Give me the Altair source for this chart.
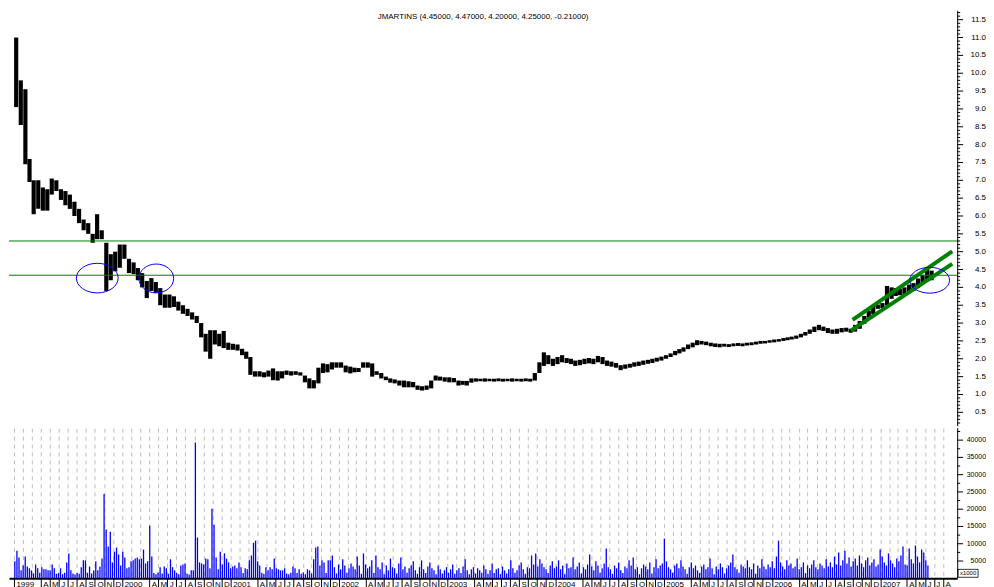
import altair as alt
import pandas as pd

TITLE = "JMARTINS (4.45000, 4.47000, 4.20000, 4.25000, -0.21000)"
FONT = "Liberation Sans"

# semi-monthly price ranges (1st and 16th of each month from Jan 1999)
price_low = [
    9.05, 8.55, 7.45, 6.95, 6.05, 6.2, 6.15, 6.15, 6.6, 6.7, 6.45, 6.3, 6.2, 6.0, 5.8, 5.6, 5.5, 5.25, 5.35, 5.35, 3.9, 4.2, 4.45, 4.55,
    4.8, 4.4, 4.37, 4.2, 4.0, 3.7, 3.9, 3.85, 3.5, 3.43, 3.43, 3.45, 3.35, 3.26, 3.2, 3.1, 3.0, 2.6, 2.2, 2.0, 2.4, 2.35, 2.3, 2.25,
    2.25, 2.23, 2.1, 2.0, 1.55, 1.5, 1.5, 1.48, 1.5, 1.4, 1.39, 1.45, 1.55, 1.53, 1.55, 1.53, 1.34, 1.17, 1.17, 1.31, 1.6, 1.62, 1.7, 1.75,
    1.75, 1.62, 1.59, 1.62, 1.63, 1.75, 1.75, 1.5, 1.55, 1.45, 1.4, 1.33, 1.31, 1.25, 1.2, 1.2, 1.2, 1.13, 1.11, 1.13, 1.17, 1.39, 1.39, 1.36,
    1.34, 1.34, 1.25, 1.27, 1.25, 1.33, 1.36, 1.37, 1.36, 1.37, 1.36, 1.37, 1.36, 1.37, 1.36, 1.37, 1.36, 1.37, 1.36, 1.39, 1.6, 1.8, 1.85, 1.8,
    1.85, 1.9, 1.88, 1.85, 1.8, 1.82, 1.85, 1.87, 1.85, 1.9, 1.85, 1.8, 1.78, 1.75, 1.68, 1.72, 1.75, 1.78, 1.8, 1.83, 1.86, 1.88, 1.92, 1.95,
    2.0, 2.05, 2.1, 2.15, 2.2, 2.27, 2.32, 2.38, 2.4, 2.38, 2.35, 2.33, 2.32, 2.34, 2.33, 2.35, 2.36, 2.35, 2.37, 2.38, 2.4, 2.42, 2.43, 2.45,
    2.46, 2.48, 2.5, 2.52, 2.54, 2.56, 2.6, 2.65, 2.7, 2.75, 2.8, 2.78, 2.72, 2.7, 2.7, 2.74, 2.76, 2.73, 2.76, 2.84, 2.98, 3.15, 3.25, 3.4,
    3.42, 3.5, 3.68, 3.76, 3.78, 3.8, 3.84, 3.9, 3.98, 4.1, 4.2, 4.2,
]
price_high = [
    11.0, 9.8, 9.55, 7.6, 7.0, 7.0, 6.8, 6.75, 7.05, 7.0, 6.75, 6.7, 6.6, 6.4, 6.2, 5.9, 5.8, 5.5, 6.05, 5.6, 5.25, 4.93, 5.0, 5.2,
    5.2, 4.8, 4.7, 4.54, 4.4, 4.18, 4.26, 4.15, 3.98, 3.8, 3.8, 3.75, 3.6, 3.5, 3.4, 3.3, 3.2, 3.0, 2.7, 2.8, 2.8, 2.7, 2.78, 2.45,
    2.42, 2.4, 2.28, 2.2, 2.05, 1.65, 1.65, 1.62, 1.67, 1.73, 1.65, 1.65, 1.67, 1.65, 1.65, 1.62, 1.53, 1.45, 1.4, 1.75, 1.87, 1.85, 1.9, 1.9,
    1.9, 1.81, 1.78, 1.75, 1.74, 1.9, 1.9, 1.87, 1.65, 1.6, 1.5, 1.45, 1.42, 1.39, 1.39, 1.37, 1.35, 1.25, 1.23, 1.25, 1.39, 1.53, 1.5, 1.48,
    1.48, 1.46, 1.39, 1.38, 1.38, 1.45, 1.45, 1.44, 1.45, 1.44, 1.44, 1.45, 1.44, 1.44, 1.45, 1.44, 1.44, 1.45, 1.44, 1.6, 1.9, 2.18, 2.1, 2.0,
    2.05, 2.1, 2.02, 2.0, 1.95, 1.97, 2.0, 2.02, 2.0, 2.08, 2.05, 1.95, 1.92, 1.88, 1.82, 1.84, 1.86, 1.9, 1.92, 1.95, 1.97, 2.0, 2.03, 2.06,
    2.1, 2.15, 2.22, 2.27, 2.32, 2.4, 2.45, 2.52, 2.5, 2.48, 2.45, 2.43, 2.42, 2.42, 2.41, 2.43, 2.44, 2.43, 2.45, 2.46, 2.48, 2.5, 2.5, 2.52,
    2.54, 2.55, 2.58, 2.6, 2.62, 2.65, 2.7, 2.75, 2.82, 2.9, 2.95, 2.9, 2.86, 2.82, 2.84, 2.86, 2.87, 2.84, 2.95, 3.06, 3.2, 3.35, 3.48, 3.52,
    3.56, 4.04, 4.0, 3.98, 3.96, 4.0, 4.08, 4.12, 4.25, 4.35, 4.54, 4.47,
]

# weekly volume, thousands of shares (weeks from 4 Jan 1999)
volume_k = [
    4.9, 8.0, 6.0, 2.3, 3.7, 6.3, 3.4, 2.9, 2.3, 1.4, 4.0, 2.9, 1.6, 3.2, 2.6, 2.6, 2.3, 2.3, 4.0, 2.9,
    1.3, 1.5, 2.9, 1.2, 1.6, 4.6, 7.2, 2.3, 1.4, 1.1, 1.5, 1.3, 3.2, 5.2, 5.2, 1.6, 3.4, 1.4, 2.3, 4.9,
    2.3, 3.4, 5.7, 24.4, 14.1, 9.2, 13.5, 4.6, 7.7, 8.9, 6.9, 3.7, 7.7, 6.0, 2.9, 3.2, 4.9, 5.2, 5.7, 6.0,
    5.5, 5.7, 8.3, 4.3, 4.9, 15.2, 6.3, 1.5, 1.2, 1.7, 3.2, 1.4, 3.4, 2.9, 1.3, 5.5, 3.2, 2.3, 1.5, 1.2,
    3.7, 4.0, 4.3, 1.4, 1.1, 2.3, 2.3, 39.3, 11.8, 4.6, 4.3, 4.0, 5.7, 5.5, 2.9, 20.1, 15.5, 6.0, 2.6, 7.7,
    4.0, 7.2, 5.7, 4.6, 2.9, 3.4, 3.7, 2.9, 4.6, 3.2, 1.5, 2.9, 2.6, 5.2, 6.6, 10.3, 10.9, 4.9, 3.7, 1.6,
    1.3, 3.2, 2.3, 3.2, 2.6, 5.7, 2.9, 2.6, 2.3, 2.3, 2.9, 1.4, 1.2, 1.6, 3.4, 2.9, 1.5, 2.6, 1.3, 1.7,
    1.2, 2.6, 2.3, 1.4, 5.5, 8.9, 9.2, 3.7, 5.2, 4.6, 1.5, 5.2, 5.2, 6.6,
    3.2, 1.4, 4.0, 2.6, 5.5, 3.7, 1.6, 2.9, 4.3, 3.4, 2.6, 6.3, 3.7, 1.3, 7.2, 4.0, 2.9, 3.4, 5.2, 1.5,
    6.6, 3.2, 2.6, 4.6, 1.2, 3.7, 2.3, 5.7, 3.2, 2.9, 1.4, 4.3, 6.0, 2.6, 3.4, 1.6, 2.9, 3.7, 4.9, 2.3,
    1.3, 3.2, 5.2, 2.6, 1.5, 3.4, 4.6, 2.9, 2.3, 1.2, 3.7, 2.6, 1.4, 2.3, 3.2, 1.6, 2.6, 4.0, 1.3, 2.3,
    2.9, 1.5, 3.4, 5.5, 2.3, 1.2, 2.6, 3.2, 1.4, 2.9, 2.3, 1.6, 3.7, 2.6, 1.3, 2.3, 4.3, 1.5, 2.6, 2.9,
    1.2, 3.4, 2.3, 1.4, 2.6, 5.2, 2.9, 1.6, 2.3, 3.7, 4.6, 2.6, 1.3, 3.2, 2.9, 6.6, 4.0, 7.2, 3.4, 5.5,
    4.3, 3.2, 2.6, 1.5, 3.7, 4.9, 2.9, 3.4, 5.2, 2.6, 3.7, 1.2, 4.3, 2.9, 3.2, 6.0, 2.6, 3.4, 4.6, 1.4,
    3.2, 2.6, 4.0, 6.9, 3.4, 2.3, 4.9, 3.7, 1.6, 2.9, 4.3, 8.6, 3.2, 2.6, 1.3, 3.7, 2.9, 4.6, 2.3, 1.5,
    3.4, 2.9, 5.2, 3.7, 6.0, 2.6, 3.2, 1.2, 2.9, 4.0, 3.4, 2.6, 4.6, 1.4, 3.2, 5.5, 2.9, 3.7, 4.3, 11.5,
    4.9, 3.2, 2.6, 1.6, 3.7, 4.3, 2.9, 5.2, 3.4, 2.6, 1.3, 3.2, 4.6, 2.9, 3.7, 2.3, 1.5, 3.4, 4.0, 2.6,
    3.2, 5.7, 2.9, 1.2, 3.4, 2.6, 4.3, 3.2, 1.4, 2.9, 3.7, 4.6, 6.9, 3.2, 2.6, 1.6, 4.0, 3.4, 2.9, 5.2,
    3.2, 2.6, 4.3, 1.3, 3.7, 2.9, 5.5, 3.4, 2.6, 4.0, 3.2, 4.9, 2.9, 6.3, 10.9, 4.6, 3.4, 2.6, 5.2, 3.7,
    4.3, 2.9, 3.4, 5.7, 2.6, 3.2, 4.6, 1.5, 3.7, 2.9, 4.0, 5.2, 3.2, 2.6, 4.3, 3.7, 2.9, 5.5, 3.4, 4.6,
    3.2, 6.3, 4.0, 7.5, 3.7, 5.2, 8.0, 4.3, 6.0, 3.4, 4.9, 5.7, 3.7, 6.6, 4.3, 3.2, 5.2, 6.0, 3.7, 4.6,
    5.5, 3.4, 4.0, 8.3, 6.3, 4.6, 3.7, 7.2, 5.2, 4.3, 3.2, 5.7, 4.9, 6.6, 9.2, 4.0, 3.7, 8.6, 5.5, 4.3,
    9.5, 6.3, 4.6, 8.3, 7.5, 5.2, 3.7,
]

h_levels = [5.30, 4.34]
channel_names = ["upper", "upper", "lower", "lower"]
channel_dates = ["2006-09-30", "2007-09-01", "2006-09-24", "2007-09-01"]
channel_prices = [3.09, 5.01, 2.79, 4.66]
ellipse_dates = ["1999-10-09", "2000-04-25", "2007-06-17"]
ellipse_prices = [4.26, 4.25, 4.20]
ellipse_half_width = [21, 17.5, 20]
ellipse_aspect = [0.71, 0.83, 0.65]

price_ticks = [x / 2 for x in range(1, 24)]
price_labels = [f"{v:.1f}" for v in price_ticks]
price_minor = [x / 10 for x in range(2, 118) if x % 5 != 0]
vol_ticks = [5000 * i for i in range(1, 9)]
vol_labels = [str(v) for v in vol_ticks]
vol_minor = [2500 + 5000 * i for i in range(0, 9)]

# ---------- tables ----------
starts = []
for k in range(len(price_low)):
    y, m, d = 1999 + k // 24, (k % 24) // 2 + 1, 1 if k % 2 == 0 else 16
    starts.append(pd.Timestamp(year=y, month=m, day=d))
ends = starts[1:] + [pd.Timestamp(2007, 7, 1)]
mids = [s + (e - s) / 2 for s, e in zip(starts, ends)]
price_df = pd.DataFrame({
    "mid": [m.strftime("%Y-%m-%dT%H:%M:%SZ") for m in mids],
    "low": price_low, "high": price_high,
})
vol_df = pd.DataFrame({
    "date": [(pd.Timestamp("1999-01-04") + pd.Timedelta(days=7 * w)).strftime("%Y-%m-%d") for w in range(len(volume_k))],
    "vol": [v * 1000 for v in volume_k],
})
chan_df = pd.DataFrame({"name": channel_names, "date": channel_dates, "price": channel_prices})

months = pd.date_range("1999-01-01", "2007-08-01", freq="MS")
month_ms = [int((m - pd.Timestamp("1970-01-01")).total_seconds() * 1000) for m in months]
def ms(s):
    return int((pd.Timestamp(s) - pd.Timestamp("1970-01-01")).total_seconds() * 1000)

W, HP, HV = 954, 418, 151
x_scale = alt.Scale(type="utc", domain=[ms("1999-01-01"), ms("2007-09-01")])
p_scale = alt.Scale(domain=[0.11, 11.75], nice=False, zero=False)
v_scale = alt.Scale(domain=[0, 43450], nice=False)
GRID = "#bdbdbd"

label_expr = ("utcmonth(datum.value) == 0 ? utcFormat(datum.value, '%Y') : "
              "(utcmonth(datum.value) < 3 ? '' : slice(utcFormat(datum.value, '%b'), 0, 1))")


def right_axis(ticks, labels, minor, scale, height, size):
    dom = alt.Chart(pd.DataFrame({"a": [0]})).mark_rule(color="black", strokeWidth=1).encode(
        x=alt.value(W + 0.5), y=alt.value(0), y2=alt.value(height))
    major = alt.Chart(pd.DataFrame({"v": ticks})).mark_rule(color="black", strokeWidth=1).encode(
        y=alt.Y("v:Q", scale=scale, axis=None), x=alt.value(W), x2=alt.value(W + 6))
    mnr = alt.Chart(pd.DataFrame({"v": minor})).mark_rule(color="black", strokeWidth=1).encode(
        y=alt.Y("v:Q", scale=scale, axis=None), x=alt.value(W), x2=alt.value(W + 3))
    txt = alt.Chart(pd.DataFrame({"v": ticks, "t": labels})).mark_text(
        fontSize=size, font=FONT, color="black", align="right", baseline="middle").encode(
        y=alt.Y("v:Q", scale=scale, axis=None), x=alt.value(W + 29), text="t:N")
    return [dom, major, mnr, txt]


# ---------- price panel ----------
bars = alt.Chart(price_df).mark_bar(color="black", size=4.2).encode(
    x=alt.X("mid:T", scale=x_scale, axis=alt.Axis(
        values=month_ms, grid=True, gridDash=[4, 4], gridColor=GRID, gridWidth=1,
        labels=False, ticks=False, domain=True, domainColor="black", domainWidth=2, title=None)),
    y=alt.Y("low:Q", scale=p_scale, axis=None),
    y2="high:Q",
)
hlines = alt.Chart(pd.DataFrame({"level": h_levels})).mark_rule(color="#008000", strokeWidth=1).encode(
    y=alt.Y("level:Q", scale=p_scale, axis=None))
chan = alt.Chart(chan_df).mark_line(color="#008000", strokeWidth=4, clip=True).encode(
    x=alt.X("date:T", scale=x_scale, axis=None), y=alt.Y("price:Q", scale=p_scale, axis=None), detail="name:N")
ells = []
for d, p, hw, a in zip(ellipse_dates, ellipse_prices, ellipse_half_width, ellipse_aspect):
    path = f"M -1 0 A 1 {a} 0 1 0 1 0 A 1 {a} 0 1 0 -1 0 Z"
    ells.append(alt.Chart(pd.DataFrame({"date": [d], "price": [p]})).mark_point(
        shape=path, size=(2 * hw) ** 2, filled=False, color="#0000ff", strokeWidth=1, opacity=1).encode(
        x=alt.X("date:T", scale=x_scale, axis=None), y=alt.Y("price:Q", scale=p_scale, axis=None)))
title = alt.Chart(pd.DataFrame({"t": [TITLE]})).mark_text(
    fontSize=8, font=FONT, color="black", align="center", baseline="middle").encode(
    text="t:N", x=alt.value(W / 2), y=alt.value(6))

price_chart = alt.layer(
    bars, hlines, chan, *ells, title, *right_axis(price_ticks, price_labels, price_minor, p_scale, HP, 8)
).properties(width=W, height=HP)

# ---------- volume panel ----------
vbars = alt.Chart(vol_df).mark_bar(color="#0000ff", size=1.3).encode(
    x=alt.X("date:T", scale=x_scale, axis=alt.Axis(
        values=month_ms, grid=True, gridDash=[4, 4], gridColor=GRID, gridWidth=1,
        labelExpr=label_expr, labelAlign="left", labelBaseline="top", labelOffset=2, labelPadding=-8,
        labelOverlap=False, labelFlush=False, labelFontSize=8, labelFont=FONT, labelColor="black",
        ticks=True, tickSize=10, tickColor="black",
        tickOpacity={"condition": {"test": "utcmonth(datum.value) == 1 || utcmonth(datum.value) == 2", "value": 0}, "value": 1},
        domain=True, domainColor="black", domainWidth=2, title=None)),
    y=alt.Y("vol:Q", scale=v_scale, axis=None),
)
box = alt.Chart(pd.DataFrame({"t": ["x1000"]})).mark_rect(fill="white", stroke="black", strokeWidth=0.8).encode(
    x=alt.value(W + 1), x2=alt.value(W + 21), y=alt.value(142), y2=alt.value(150))
box_t = alt.Chart(pd.DataFrame({"t": ["x1000"]})).mark_text(fontSize=6, font=FONT, color="black",
    align="center", baseline="middle").encode(text="t:N", x=alt.value(W + 11), y=alt.value(146))

vol_chart = alt.layer(
    vbars, *right_axis(vol_ticks, vol_labels, vol_minor, v_scale, HV, 7), box, box_t
).properties(width=W, height=HV)

chart = alt.vconcat(price_chart, vol_chart, spacing=0).properties(
    padding=0, background="white"
).configure_view(stroke=None).configure_axis(labelFont=FONT)

chart.save("out.html", embed_options={"renderer": "svg", "actions": False})
